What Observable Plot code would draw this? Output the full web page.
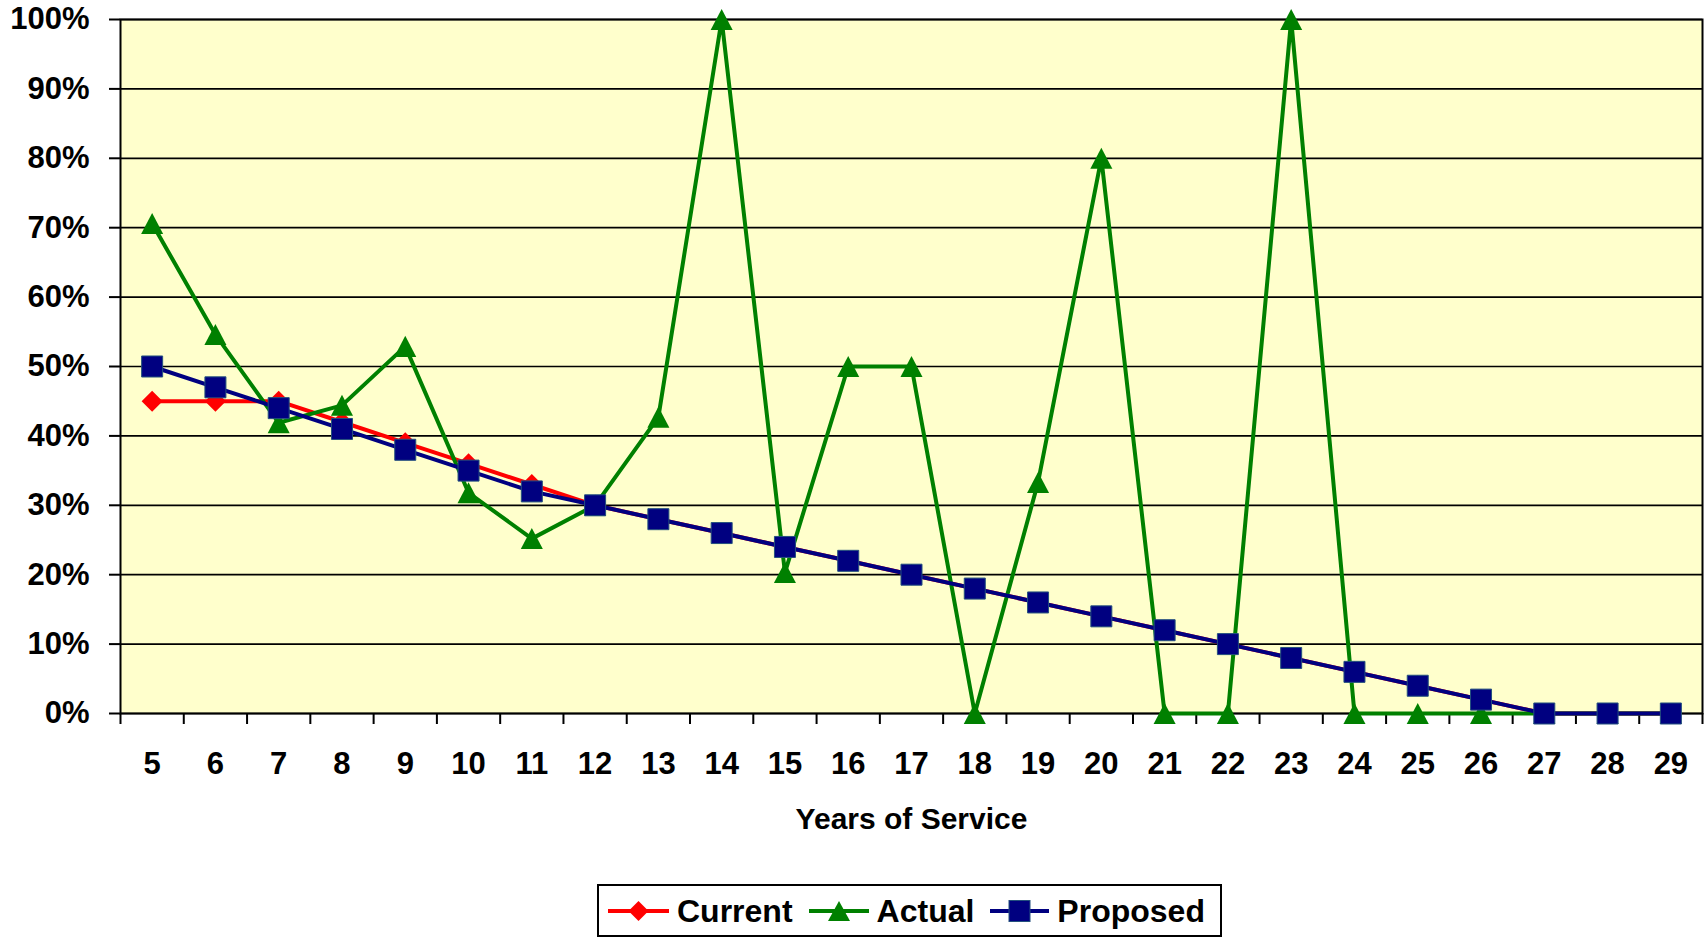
<!DOCTYPE html>
<html>
<head>
<meta charset="utf-8">
<script src="https://cdn.jsdelivr.net/npm/d3@7"></script>
<script src="https://cdn.jsdelivr.net/npm/@observablehq/plot@0.6"></script>
<style>
  body { margin: 0; background: #fff; font-family: "Liberation Sans", Arial, sans-serif; }
  #wrap { position: relative; width: 1707px; height: 937px; overflow: hidden; background: #fff; }
  #chart svg { display: block; }
  #legend {
    position: absolute; left: 597px; top: 884px; width: 625px; height: 53px;
    border: 2px solid #000; box-sizing: border-box; background: #fff;
    display: flex; align-items: center; padding-left: 9px;
  }
  .item { display: flex; align-items: center; margin-right: 16px; }
  .item svg { display: block; margin-right: 8px; }
  .lbl { display: inline-block; font-size: 32px; font-weight: bold; color: #000; line-height: 1; }
</style>
</head>
<body>
<div id="wrap">
  <div id="chart"></div>
  <div id="legend">
    <span class="item"><svg width="61" height="24"><line x1="0" y1="12" x2="61" y2="12" stroke="#FF0000" stroke-width="4"/><path d="M30.5,2L40.5,12L30.5,22L20.5,12Z" fill="#FF0000"/></svg><span class="lbl">Current</span></span>
    <span class="item"><svg width="60" height="24"><line x1="0" y1="12" x2="60" y2="12" stroke="#008000" stroke-width="4"/><path d="M30,2L41,22L19,22Z" fill="#008000"/></svg><span class="lbl">Actual</span></span>
    <span class="item"><svg width="59" height="24"><line x1="0" y1="12" x2="59" y2="12" stroke="#000080" stroke-width="4"/><rect x="19" y="1.5" width="21" height="21" fill="#000080" stroke="#24507E" stroke-width="1"/></svg><span class="lbl">Proposed</span></span>
  </div>
</div>
<script>
// Years of service (categories)
const years = [5,6,7,8,9,10,11,12,13,14,15,16,17,18,19,20,21,22,23,24,25,26,27,28,29];
// Series values (%)
const current  = [45,45,45,42,39,36,33,30,28,26,24,22,20,18,16,14,12,10,8,6,4,2,0,0,0];
const actual   = [70.6,54.6,41.9,44.4,52.9,31.8,25.2,30,42.7,100,20.3,50,50,0,33.3,80,0,0,100,0,0,0,0,0,0];
const proposed = [50,47,44,41,38,35,32,30,28,26,24,22,20,18,16,14,12,10,8,6,4,2,0,0,0];
// Y tick values (%)
const yTicks = [0,10,20,30,40,50,60,70,80,90,100];

const rows = years.map((yr, i) => ({yr, current: current[i], actual: actual[i], proposed: proposed[i]}));
// category boundaries for the x tick marks
const bounds = years.map(y => y - 0.5).concat([years[years.length - 1] + 0.5]);

const square = {draw(ctx, size) { const s = Math.sqrt(size) / 2; ctx.moveTo(-s, -s); ctx.lineTo(s, -s); ctx.lineTo(s, s); ctx.lineTo(-s, s); ctx.closePath(); }};
const tri = {draw(ctx, size) { const s = Math.sqrt(size) / 2; ctx.moveTo(0, -s); ctx.lineTo(s * 1.05, s); ctx.lineTo(-s * 1.05, s); ctx.closePath(); }};
const dia = {draw(ctx, size) { const s = Math.sqrt(size) / 2; ctx.moveTo(0, -s); ctx.lineTo(s, 0); ctx.lineTo(0, s); ctx.lineTo(-s, 0); ctx.closePath(); }};

const chart = Plot.plot({
  width: 1707,
  height: 875,
  marginLeft: 120,
  marginRight: 5,
  marginTop: 19,
  marginBottom: 162,
  style: {fontFamily: "'Liberation Sans', Arial, sans-serif", fontSize: "31px", fontWeight: "bold", color: "#000", background: "#fff", overflow: "visible"},
  x: {type: "linear", domain: [4.5, 29.5]},
  y: {domain: [0, 100]},
  marks: [
    Plot.frame({fill: "#FFFFCC", stroke: null}),
    Plot.gridY(yTicks, {stroke: "#000", strokeOpacity: 1, strokeWidth: 1.7}),
    Plot.axisY(yTicks, {tickSize: 11, tickPadding: 20, tickFormat: d => d + "%", label: null, strokeWidth: 2}),
    Plot.axisX(bounds, {tickSize: 11, tickFormat: () => "", label: null, strokeWidth: 2}),
    Plot.axisX(years, {tickSize: 0, tickPadding: 38, tickFormat: d => String(d), label: null}),
    Plot.axisX([], {label: "Years of Service", labelAnchor: "center", labelArrow: false, labelOffset: 115.5, fontSize: 30}),
    Plot.frame({stroke: "#000", strokeWidth: 2}),
    Plot.line(rows, {x: "yr", y: "current", stroke: "#FF0000", strokeWidth: 4}),
    Plot.dot(rows, {x: "yr", y: "current", symbol: dia, r: 11.85, fill: "#FF0000", stroke: "none"}),
    Plot.line(rows, {x: "yr", y: "actual", stroke: "#008000", strokeWidth: 4}),
    Plot.dot(rows, {x: "yr", y: "actual", symbol: tri, r: 11.85, fill: "#008000", stroke: "none"}),
    Plot.line(rows, {x: "yr", y: "proposed", stroke: "#000080", strokeWidth: 4}),
    Plot.dot(rows, {x: "yr", y: "proposed", symbol: square, r: 11.85, fill: "#000080", stroke: "#24507E", strokeWidth: 1})
  ]
});
document.getElementById("chart").appendChild(chart);
</script>
</body>
</html>
